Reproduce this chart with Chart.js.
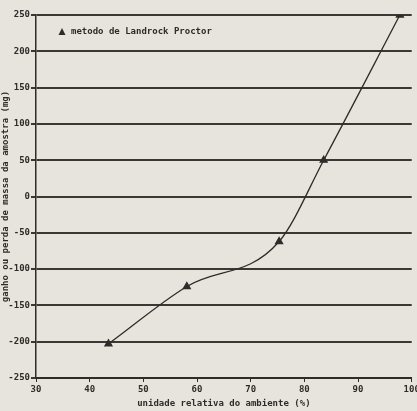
<!DOCTYPE html>
<html lang="pt">
<head>
    <meta charset="UTF-8">
    <title>Landrock Proctor</title>
    <script src="https://cdn.jsdelivr.net/npm/chart.js"></script>
    <style>
        html, body { margin: 0; padding: 0; background: #e7e4dd; }
        #wrap { width: 417px; height: 411px; }
    </style>
</head>
<body>
    <div id="wrap"><canvas id="chart" width="417" height="411"></canvas></div>
    <script>
// Values
const humidity = [43.5, 58.1, 75.3, 83.6, 97.8];
const massChange = [-203, -124, -62, 50, 250];
const seriesLabel = 'metodo de Landrock Proctor';
const xTitle = 'unidade relativa do ambiente (%)';
const yTitle = 'ganho ou perda de massa da amostra (mg)';

const ink = '#2e2c2a';
const font = { family: 'DejaVu Sans Mono', size: 9, weight: 'bold' };

// paper background
const paper = {
    id: 'paper',
    beforeDraw(chart) {
        const ctx = chart.ctx;
        ctx.save();
        ctx.fillStyle = '#e7e4dd';
        ctx.fillRect(0, 0, chart.width, chart.height);
        ctx.restore();
    }
};

// legend written inside the plot, top left
const innerLegend = {
    id: 'innerLegend',
    afterDraw(chart) {
        const ctx = chart.ctx;
        const x = chart.chartArea.left + 26;
        const y = chart.chartArea.top + 17;
        ctx.save();
        ctx.fillStyle = ink;
        ctx.beginPath();
        ctx.moveTo(x, y - 4);
        ctx.lineTo(x + 3.5, y + 3);
        ctx.lineTo(x - 3.5, y + 3);
        ctx.closePath();
        ctx.fill();
        ctx.font = 'bold 9px "DejaVu Sans Mono"';
        ctx.textBaseline = 'middle';
        ctx.fillText(seriesLabel, x + 9, y);
        ctx.restore();
    }
};

const points = humidity.map((h, i) => ({ x: h, y: massChange[i] }));

new Chart(document.getElementById('chart'), {
    type: 'line',
    data: {
        datasets: [{
            label: seriesLabel,
            data: points,
            borderColor: ink,
            backgroundColor: ink,
            borderWidth: 1.3,
            pointStyle: 'triangle',
            pointRadius: 4,
            pointBackgroundColor: ink,
            pointBorderColor: ink,
            tension: 0.4,
            cubicInterpolationMode: 'monotone',
            fill: false
        }]
    },
    options: {
        responsive: false,
        animation: false,
        layout: { padding: { top: 15, right: 4, left: 0, bottom: 0 } },
        plugins: {
            legend: { display: false },
            tooltip: { enabled: false }
        },
        scales: {
            x: {
                type: 'linear',
                min: 30,
                max: 100,
                ticks: { stepSize: 10, color: ink, font: font, padding: 2 },
                grid: { drawOnChartArea: false, color: ink, tickLength: 4, lineWidth: 1 },
                border: { color: ink, width: 2 },
                title: { display: true, text: xTitle, color: ink, font: font, padding: { top: 1, bottom: 2 } },
                afterFit(s) { s.height = 33; s.paddingRight = 0; }
            },
            y: {
                min: -250,
                max: 250,
                ticks: { stepSize: 50, color: ink, font: font, padding: 1 },
                grid: { color: '#3a3734', lineWidth: 2, tickLength: 5 },
                border: { color: ink, width: 1.5 },
                title: { display: true, text: yTitle, color: ink, font: font, padding: { top: 0, bottom: 0 } },
                afterFit(s) { s.width = 36; }
            }
        }
    },
    plugins: [paper, innerLegend]
});
    </script>
</body>
</html>
